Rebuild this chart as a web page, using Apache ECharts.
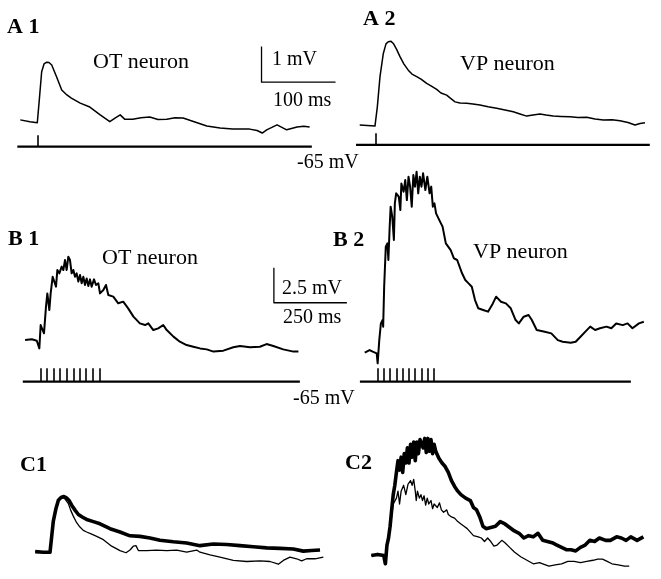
<!DOCTYPE html>
<html>
<head>
<meta charset="utf-8">
<script src="https://cdn.jsdelivr.net/npm/echarts@6/dist/echarts.min.js"></script>
<style>
  html, body { margin: 0; padding: 0; background: #fff; }
  #chart { width: 661px; height: 579px; }
</style>
</head>
<body>
<div id="chart"></div>
<script>
// traces: [time (ms from stimulus onset), potential (mV above pre-stimulus baseline)]
const a1Trace = [[-23, 0.06], [-10, 0.01], [0, -0.02], [2.7, 0.62], [5.9, 1.41], [9.1, 1.63], [12.7, 1.68], [15.8, 1.67],
  [19.5, 1.6], [26, 1.27], [33, 0.9], [40, 0.76], [46, 0.67], [58, 0.53], [71, 0.42], [85, 0.2], [98, 0.01], [105, 0.11],
  [112, 0.2], [118, 0.08], [129, 0.08], [140, 0.12], [152, 0.14], [163, 0.07], [175, 0.08], [186, 0.12], [197, 0.11],
  [206, 0.05], [216, -0.02], [229, -0.11], [247, -0.17], [264, -0.2], [287, -0.2], [297, -0.24], [304, -0.31],
  [310, -0.22], [324, -0.08], [337, -0.22], [351, -0.14], [360, -0.12], [368, -0.14]]
const a2Trace = [[-22, 0], [-1.4, -0.03], [1.8, 0.51], [5.4, 1.36], [9.9, 2.01], [13.5, 2.28], [16.6, 2.34], [20.3, 2.35],
  [23.4, 2.29], [27.7, 2.13], [32.4, 1.92], [37.8, 1.71], [43.6, 1.54], [48.6, 1.43], [55, 1.36], [60.8, 1.29],
  [68.5, 1.17], [74.3, 1.1], [82, 1.0], [87.8, 0.9], [95.5, 0.84], [100, 0.76], [106.8, 0.65], [113.5, 0.62],
  [122.6, 0.61], [131, 0.59], [140.5, 0.56], [151.4, 0.51], [163.1, 0.47], [174.3, 0.42], [185.5, 0.37], [194.6, 0.31],
  [203.6, 0.25], [212.2, 0.28], [221.6, 0.31], [229.7, 0.28], [239.6, 0.25], [250, 0.24], [262.2, 0.23], [273, 0.21],
  [284.7, 0.22], [296, 0.17], [307.2, 0.14], [319, 0.15], [329.7, 0.12], [340.5, 0.07], [350, 0], [356.8, 0.04], [363.5, 0.06]]
const b1Trace = [[-51, 0], [-28, 0.05], [-11, -0.05], [-2.3, -0.6], [2.3, 1.07], [9.1, 1.19], [13.7, 0.48], [20.5, 2.38],
  [25.1, 3.33], [32, 2.14], [36.5, 3.33], [43.4, 4.52], [49.1, 4.64], [54.8, 3.81], [59.4, 5.0], [66.2, 4.76],
  [74.2, 5.24], [79.9, 5.0], [85.6, 5.71], [91.3, 5.0], [97, 5.95], [102.7, 5.71], [108.4, 4.76], [114.2, 5.0],
  [119.9, 4.52], [125.6, 4.76], [131.3, 4.17], [137, 4.64], [142.7, 4.05], [148.4, 4.52], [154.1, 3.93], [159.8, 4.4],
  [165.5, 3.86], [171.2, 4.33], [176.9, 3.81], [184.9, 4.33], [191.8, 3.93], [199.8, 4.05], [205.5, 3.33], [216.9, 3.57],
  [226, 3.93], [234, 3.21], [251, 3.1], [268, 2.62], [285, 2.74], [302, 2.26], [320, 1.67], [342, 1.19], [360, 1.07],
  [371, 1.19], [388, 0.71], [405, 0.83], [422, 1.07], [434, 0.71], [457, 0.24], [479, -0.12], [502, -0.36], [525, -0.48],
  [548, -0.6], [571, -0.67], [594, -0.83], [628, -0.76], [662, -0.52], [685, -0.43], [719, -0.52], [753, -0.48],
  [776, -0.29], [799, -0.43], [833, -0.67], [868, -0.83], [885, -0.83]]
const b2Trace = [[-42, -0.07], [-25, 0.12], [-14, 0], [0, -0.12], [3.4, -0.83], [9.1, 0.83], [14.8, 2.02], [20.5, 2.26],
  [22.8, 1.79], [26.3, 4.64], [32, 7.5], [37.7, 7.74], [41.1, 6.55], [45.7, 8.93], [49.1, 10.36], [54.8, 9.64],
  [60.5, 7.98], [63.9, 10.6], [68.5, 11.31], [77.6, 11.07], [83.3, 10.12], [86.8, 12.02], [94.7, 11.43], [100.5, 12.26],
  [106.2, 10.83], [111.9, 12.5], [117.6, 11.79], [123.3, 10.36], [129, 12.62], [134.7, 11.79], [140.4, 12.86],
  [146.1, 11.31], [151.8, 12.5], [157.5, 11.79], [163.2, 12.74], [171.2, 11.55], [178.1, 12.5], [186.1, 11.31],
  [191.8, 11.79], [197.5, 10.36], [203.2, 10.6], [208.9, 9.88], [220.3, 9.4], [231.7, 8.93], [243.2, 7.74], [260.3, 7.26],
  [271.7, 6.67], [283.1, 6.55], [300.2, 5.6], [311.6, 5.12], [323.1, 4.88], [334.5, 4.64], [345.9, 3.69], [357.3, 3.1],
  [374.4, 2.98], [391.6, 2.86], [408.7, 3.45], [420.1, 3.93], [437.2, 3.57], [454.3, 3.45], [471.5, 3.1], [488.6, 2.26],
  [500, 2.02], [517.1, 2.5], [534.2, 2.62], [545.7, 2.26], [562.8, 1.55], [591.3, 1.43], [614.2, 1.31], [637, 0.83],
  [654.1, 0.71], [682.6, 0.64], [699.8, 0.71], [716.9, 1.07], [734, 1.43], [751.1, 1.79], [768.3, 1.55], [785.4, 1.67],
  [808.2, 1.79], [825.3, 1.67], [842.5, 2.02], [865.3, 1.9], [882.4, 2.02], [899.5, 1.67], [922.4, 2.02], [939.5, 2.14]]
// C panels: responses normalised to the peak of the thick trace
const c1Thick = [[-20, 0], [-9, -0.01], [0, -0.01], [2.3, 0.28], [4.5, 0.56], [8.1, 0.79], [11.3, 0.94], [14.9, 0.99],
  [18.9, 1.01], [22.5, 0.98], [25.7, 0.94], [29.3, 0.85], [33.8, 0.76], [38.3, 0.68], [44.1, 0.63], [49.5, 0.59],
  [58.6, 0.55], [67.6, 0.51], [81.1, 0.42], [94.6, 0.36], [108.1, 0.29], [121.6, 0.28], [135.1, 0.25], [148.6, 0.21],
  [166.7, 0.18], [184.7, 0.16], [202.7, 0.11], [220.7, 0.14], [238.7, 0.13], [256.8, 0.11], [274.8, 0.09], [292.8, 0.07],
  [310.8, 0.06], [328.8, 0.05], [342.3, 0.01], [353.6, 0.02], [364.9, 0.03]]
const c1Thin = [[-20, 0], [-9, -0.01], [0, -0.01], [2.3, 0.28], [4.5, 0.56], [8.1, 0.79], [11.3, 0.94], [14.9, 0.98],
  [18.9, 0.99], [21.6, 0.98], [24.8, 0.88], [27.9, 0.76], [31.5, 0.65], [36, 0.53], [40.5, 0.45], [45, 0.39], [49.5, 0.36],
  [56.3, 0.32], [63.1, 0.28], [72.1, 0.22], [83.3, 0.1], [94.6, 0.02], [102.7, -0.02], [108.1, 0.03], [112.6, 0.1],
  [116.2, 0.11], [119.4, 0.02], [130.6, 0.02], [144.1, 0.03], [157.7, 0.02], [171.2, 0.03], [184.7, -0.01], [198.2, 0.03],
  [202.7, -0.01], [216.2, -0.06], [229.7, -0.1], [247.7, -0.16], [265.8, -0.18], [283.8, -0.17], [297.3, -0.18],
  [308.6, -0.23], [315.3, -0.16], [324.3, -0.1], [333.3, -0.13], [340.1, -0.17], [346.8, -0.13], [358.1, -0.13], [369.4, -0.1]]
const c2Thick = [[-51, 0], [-28, 0.01], [-6, 0], [0, -0.07], [5.7, 0.09], [11.4, 0.15], [17.1, 0.25], [22.8, 0.39],
  [28.5, 0.52], [34.2, 0.6], [40, 0.71], [45.7, 0.81], [51.4, 0.73], [57.1, 0.84], [62.8, 0.71], [68.5, 0.87], [74.2, 0.79],
  [79.9, 0.92], [85.6, 0.79], [91.3, 0.95], [97, 0.84], [102.7, 0.97], [108.4, 0.81], [114.2, 0.97], [119.9, 0.87],
  [125.6, 0.99], [137, 0.92], [142.7, 1.0], [148.4, 0.88], [154.1, 1.0], [159.8, 0.89], [165.5, 0.99], [171.2, 0.87],
  [176.9, 0.95], [182.6, 0.89], [194.1, 0.83], [205.5, 0.79], [216.9, 0.76], [228.3, 0.71], [239.7, 0.64], [251.1, 0.59],
  [262.6, 0.55], [274, 0.52], [291.1, 0.49], [308.2, 0.47], [319.6, 0.41], [331, 0.39], [342.5, 0.33], [353.9, 0.25],
  [365.3, 0.23], [382.4, 0.24], [399.5, 0.25], [416.7, 0.29], [433.8, 0.27], [450.9, 0.24], [468, 0.21], [485.2, 0.19],
  [502.3, 0.15], [519.4, 0.17], [536.5, 0.16], [553.7, 0.19], [570.8, 0.13], [587.9, 0.12], [605, 0.11], [622.1, 0.09],
  [639.3, 0.07], [656.4, 0.05], [673.5, 0.05], [690.6, 0.04], [707.8, 0.07], [724.9, 0.09], [742, 0.13], [759.1, 0.12],
  [776.3, 0.15], [799.1, 0.13], [816.2, 0.13], [839, 0.16], [856.2, 0.15], [873.3, 0.13], [890.4, 0.16], [913.2, 0.13], [936.1, 0.16]]
const c2Thin = [[-51, 0], [-28, 0.01], [-6, 0], [0, -0.07], [5.7, 0.09], [17.1, 0.25], [28.5, 0.44], [40, 0.49],
  [45.7, 0.55], [51.4, 0.44], [57.1, 0.55], [66.2, 0.6], [74.2, 0.52], [82.2, 0.61], [91.3, 0.64], [97, 0.6], [102.7, 0.65],
  [108.4, 0.55], [111.9, 0.47], [116.4, 0.55], [123.3, 0.49], [129, 0.52], [134.7, 0.47], [140.4, 0.51], [146.1, 0.43],
  [151.8, 0.49], [157.5, 0.44], [165.5, 0.47], [171.2, 0.4], [176.9, 0.44], [188.4, 0.41], [196.3, 0.45], [203.2, 0.39],
  [211.2, 0.37], [222.6, 0.39], [228.3, 0.35], [239.7, 0.33], [251.1, 0.32], [262.6, 0.29], [274, 0.27], [285.4, 0.25],
  [296.8, 0.23], [308.2, 0.2], [319.6, 0.17], [336.8, 0.16], [348.2, 0.15], [359.6, 0.12], [371, 0.15], [382.4, 0.12],
  [393.8, 0.08], [405.3, 0.09], [422.4, 0.13], [433.8, 0.11], [450.9, 0.07], [468, 0.03], [490.9, -0.01], [513.7, -0.04],
  [536.5, -0.07], [559.4, -0.06], [570.8, -0.07], [593.6, -0.09], [616.4, -0.08], [639.3, -0.07], [662.1, -0.05],
  [684.9, -0.05], [707.8, -0.06], [730.6, -0.05], [753.4, -0.04], [770.5, -0.03], [787.7, -0.03], [804.8, -0.05],
  [821.9, -0.07], [844.7, -0.08], [867.6, -0.09], [884.7, -0.09]]

// stimulus lines (level = -65 mV holding) and shock times
const a1Stim = [[-27, -0.69], [371, -0.69]]
const a2Stim = [[-27, -0.56], [370, -0.56]]
const aShock = [0]
const a1TickTop = -0.37
const a2TickTop = -0.23
const b1Stim = [[-59, -2.98], [890, -2.98]]
const b2Stim = [[-59, -2.14], [894, -2.14]]
const b1Shocks = [2, 24, 46, 69, 91, 114, 136, 158, 181, 203]
const b2Shocks = [3, 25, 47, 69, 91, 113, 135, 157, 179, 201]
const b1TickTop = -2.02
const b2TickTop = -1.19

// calibration bars: 1 mV / 100 ms and 2.5 mV / 250 ms
const aScaleBar = [[303, 2.12], [303, 1.12], [403, 1.12]]
const bScaleBar = [[801, 5.16], [801, 2.66], [1051, 2.66]]

// axis ranges for each panel [xmin, xmax, ymin, ymax]
const ranges = [
  [-40, 420, -1, 2.5],
  [-40, 380, -1, 2.5],
  [-80, 1080, -4, 7.5],
  [-80, 1000, -3, 14],
  [-40, 400, -0.5, 1.3],
  [-80, 1000, -0.2, 1.2]
]
const grids = [
  { left: 7.7, top: 33, width: 340.4, height: 124.6 },
  { left: 346.4, top: 36, width: 310.8, height: 124.6 },
  { left: 16.64, top: 235, width: 338.72, height: 161 },
  { left: 353.94, top: 155.7, width: 315.36, height: 238 },
  { left: 20.4, top: 480.6, width: 325.6, height: 104.4 },
  { left: 363.34, top: 415, width: 315.36, height: 175 }
]

const serif = '"Liberation Serif", "DejaVu Serif", serif'

function trace(idx, data, width) {
  return {
    type: 'line', xAxisIndex: idx, yAxisIndex: idx, data: data,
    showSymbol: false, symbol: 'none', silent: true,
    lineStyle: { color: '#000', width: width, join: 'round' }
  }
}
function ticks(idx, times, base, top) {
  return {
    type: 'lines', coordinateSystem: 'cartesian2d', xAxisIndex: idx, yAxisIndex: idx, silent: true,
    lineStyle: { color: '#000', width: 1.6, opacity: 1 },
    data: times.map(t => ({ coords: [[t, base], [t, top]] }))
  }
}
function label(text, x, y, size, bold) {
  return {
    type: 'text', x: x, y: y, silent: true,
    style: {
      text: text, fill: '#000', align: 'left', verticalAlign: 'middle',
      font: (bold ? 'bold ' : '') + size + 'px ' + serif
    }
  }
}

const chart = echarts.init(document.getElementById('chart'), null, { renderer: 'canvas' })
chart.setOption({
  backgroundColor: '#fff',
  animation: false,
  grid: grids,
  xAxis: ranges.map((r, i) => ({ type: 'value', gridIndex: i, min: r[0], max: r[1], show: false })),
  yAxis: ranges.map((r, i) => ({ type: 'value', gridIndex: i, min: r[2], max: r[3], show: false })),
  series: [
    trace(0, a1Trace, 1.5),
    trace(0, a1Stim, 2.2),
    ticks(0, aShock, a1Stim[0][1], a1TickTop),
    trace(0, aScaleBar, 1.3),
    trace(1, a2Trace, 1.5),
    trace(1, a2Stim, 2.2),
    ticks(1, aShock, a2Stim[0][1], a2TickTop),
    trace(2, b1Trace, 2),
    trace(2, b1Stim, 2.2),
    ticks(2, b1Shocks, b1Stim[0][1], b1TickTop),
    trace(2, bScaleBar, 1.3),
    trace(3, b2Trace, 2),
    trace(3, b2Stim, 2.2),
    ticks(3, b2Shocks, b2Stim[0][1], b2TickTop),
    trace(4, c1Thick, 3.6),
    trace(4, c1Thin, 1.3),
    trace(5, c2Thick, 3.6),
    trace(5, c2Thin, 1.3)
  ],
  graphic: [
    label('A 1', 7, 27, 22, true),
    label('OT neuron', 93, 62, 22, false),
    label('1 mV', 272, 60, 20, false),
    label('100 ms', 273, 101, 20, false),
    label('A 2', 363, 19, 22, true),
    label('VP neuron', 460, 64, 22, false),
    label('-65 mV', 297, 163, 20, false),
    label('B 1', 8, 239, 22, true),
    label('OT neuron', 102, 258, 22, false),
    label('2.5 mV', 282, 289, 20, false),
    label('250 ms', 283, 318, 20, false),
    label('B 2', 333, 240, 22, true),
    label('VP neuron', 473, 252, 22, false),
    label('-65 mV', 293, 399, 20, false),
    label('C1', 20, 465, 22, true),
    label('C2', 345, 463, 22, true)
  ]
})
</script>
</body>
</html>
